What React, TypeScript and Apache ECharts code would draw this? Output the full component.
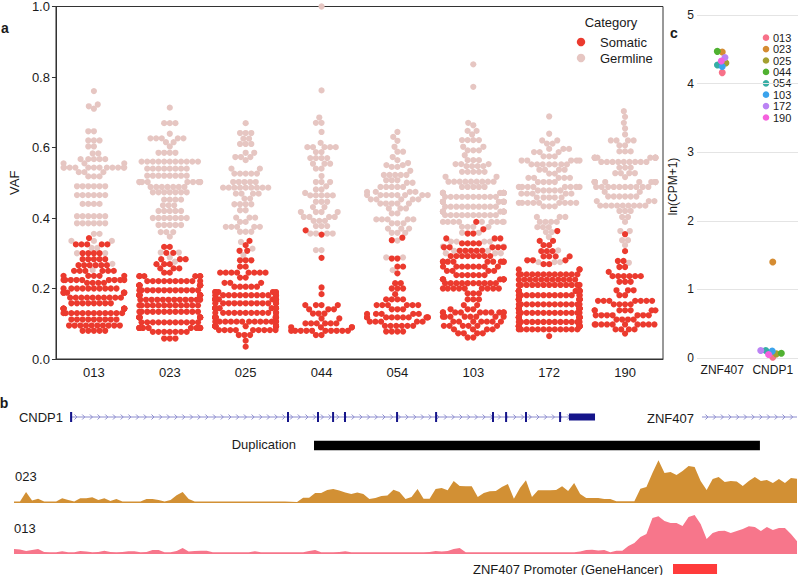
import React, { useEffect, useRef } from 'react';
import * as echarts from 'echarts';

// ---------------- Panel a: VAF per sample ----------------
const samples = ['013', '023', '025', '044', '054', '103', '172', '190'];
const vafTicks = [0, 0.2, 0.4, 0.6, 0.8, 1.0];

const somatic013 = [
  0.343, 0.325, 0.325, 0.325, 0.325, 0.325, 0.300, 0.300, 0.300, 0.300,
  0.283, 0.283, 0.283, 0.283, 0.283, 0.266, 0.266, 0.266, 0.266, 0.266, 0.266,
  0.250, 0.250, 0.250, 0.250, 0.250, 0.250, 0.236, 0.236, 0.236, 0.236, 0.236,
  0.224, 0.224, 0.224, 0.224, 0.224, 0.224, 0.224, 0.224, 0.224, 0.216, 0.216, 0.216, 0.216,
  0.200, 0.200, 0.200, 0.200, 0.200, 0.200, 0.200, 0.200, 0.200, 0.200,
  0.188, 0.188, 0.188, 0.188, 0.188, 0.188,
  0.174, 0.174, 0.174, 0.174, 0.174, 0.174, 0.174, 0.174, 0.174, 0.174,
  0.158, 0.158, 0.158, 0.158, 0.158, 0.158, 0.158, 0.158,
  0.143, 0.143, 0.143, 0.143, 0.143, 0.143, 0.143, 0.143, 0.143,
  0.130, 0.130, 0.130, 0.130, 0.130, 0.130, 0.130, 0.130, 0.130, 0.130, 0.130, 0.130,
  0.112, 0.112, 0.112, 0.112, 0.112, 0.112, 0.112, 0.112, 0.112,
  0.095, 0.095, 0.095, 0.095, 0.095, 0.095, 0.095, 0.095, 0.095, 0.095,
  0.080, 0.080, 0.080, 0.080, 0.080,
];
const germline013 = [
  0.760, 0.722, 0.717, 0.710, 0.646, 0.646, 0.620, 0.620, 0.620, 0.603, 0.603, 0.583, 0.583,
  0.567, 0.567, 0.567, 0.567, 0.567, 0.555, 0.555, 0.555,
  0.543, 0.543, 0.543, 0.543, 0.543, 0.543, 0.543, 0.543, 0.543, 0.543, 0.543, 0.543,
  0.530, 0.530, 0.530, 0.518, 0.518, 0.518, 0.490, 0.490, 0.490, 0.490, 0.490, 0.490,
  0.465, 0.465, 0.465, 0.465, 0.465, 0.465, 0.440, 0.440, 0.440, 0.440,
  0.405, 0.405, 0.405, 0.405, 0.405, 0.405, 0.385, 0.385, 0.385, 0.385, 0.385, 0.385,
  0.355, 0.355, 0.335, 0.335, 0.335, 0.315, 0.315, 0.300, 0.300, 0.270, 0.252,
];
const somatic023 = [
  0.318, 0.318, 0.301, 0.301, 0.283, 0.283, 0.283, 0.269, 0.269, 0.269, 0.257, 0.257, 0.257,
  0.245, 0.245, 0.235, 0.235, 0.235, 0.235, 0.235, 0.235,
  0.221, 0.221, 0.221, 0.221, 0.221, 0.221, 0.221, 0.221, 0.221, 0.221,
  0.209, 0.209, 0.209, 0.209, 0.209, 0.209, 0.209, 0.209, 0.209,
  0.195, 0.195, 0.195, 0.195, 0.195, 0.195, 0.195, 0.195, 0.195, 0.195, 0.195, 0.195,
  0.181, 0.181, 0.181, 0.181, 0.181, 0.181, 0.181, 0.181, 0.181, 0.181,
  0.168, 0.168, 0.168, 0.168, 0.168, 0.168, 0.168, 0.168, 0.168, 0.168, 0.168, 0.168,
  0.152, 0.152, 0.152, 0.152, 0.152, 0.152, 0.152, 0.152, 0.152, 0.152, 0.152, 0.152,
  0.134, 0.134, 0.134, 0.134, 0.134, 0.134, 0.134, 0.134, 0.134, 0.134, 0.134, 0.134,
  0.118, 0.118, 0.118, 0.118, 0.118, 0.118, 0.118, 0.118, 0.118, 0.118, 0.118,
  0.104, 0.104, 0.104, 0.104, 0.104, 0.104, 0.104, 0.104, 0.104, 0.104, 0.104,
  0.088, 0.088, 0.088, 0.088, 0.088, 0.088, 0.088, 0.088, 0.088, 0.088, 0.088, 0.088,
  0.077, 0.077, 0.077, 0.077, 0.077, 0.077, 0.077, 0.058, 0.058, 0.058,
];
const germline023 = [
  0.713, 0.669, 0.669, 0.669, 0.639, 0.626, 0.626, 0.626, 0.626, 0.626, 0.615, 0.615, 0.603,
  0.585, 0.585, 0.585, 0.585,
  0.560, 0.560, 0.560, 0.560, 0.560, 0.560, 0.560, 0.560, 0.560, 0.560, 0.560,
  0.540, 0.540, 0.540, 0.540, 0.540, 0.540, 0.540, 0.540,
  0.520, 0.520, 0.520, 0.520, 0.520, 0.520, 0.520, 0.520,
  0.502, 0.502, 0.502, 0.502, 0.502, 0.502, 0.502, 0.502, 0.502,
  0.488, 0.488, 0.488, 0.488, 0.488, 0.488, 0.488, 0.473, 0.473, 0.473, 0.473, 0.473, 0.473, 0.473,
  0.452, 0.452, 0.452, 0.452, 0.436, 0.436, 0.436, 0.420, 0.420, 0.420, 0.420, 0.420,
  0.400, 0.400, 0.400, 0.400, 0.400, 0.400, 0.400, 0.380, 0.380, 0.380, 0.380, 0.380,
  0.360, 0.360, 0.360, 0.347, 0.302, 0.302, 0.288, 0.276,
];
const somatic025 = [
  0.335, 0.323, 0.307, 0.307, 0.280, 0.280, 0.280, 0.262, 0.262,
  0.245, 0.245, 0.245, 0.245, 0.245, 0.245, 0.245, 0.245, 0.231, 0.231,
  0.216, 0.216, 0.216, 0.205, 0.205, 0.205, 0.205, 0.205, 0.190, 0.190, 0.190, 0.190, 0.190,
  0.181, 0.181, 0.181, 0.181, 0.181, 0.181, 0.181, 0.181, 0.181, 0.181, 0.181, 0.181, 0.181,
  0.169, 0.169, 0.169, 0.169, 0.169, 0.169, 0.169, 0.169, 0.169, 0.169, 0.169, 0.169,
  0.158, 0.158, 0.158, 0.158, 0.158, 0.158, 0.158, 0.158, 0.158, 0.158, 0.158, 0.158, 0.158,
  0.144, 0.144, 0.144, 0.144, 0.144, 0.144, 0.144, 0.144, 0.144, 0.144, 0.144, 0.144,
  0.131, 0.131, 0.131, 0.131, 0.131, 0.131, 0.131, 0.131, 0.131, 0.131, 0.131, 0.131, 0.131,
  0.118, 0.118, 0.118, 0.118, 0.118, 0.118, 0.118, 0.118, 0.118, 0.118, 0.118, 0.118,
  0.106, 0.106, 0.106, 0.106, 0.106, 0.106, 0.106, 0.106, 0.106, 0.106, 0.106, 0.106, 0.106,
  0.093, 0.093, 0.093, 0.093, 0.093, 0.093, 0.093, 0.093, 0.093, 0.093, 0.093, 0.093,
  0.082, 0.082, 0.082, 0.082, 0.082, 0.082, 0.082, 0.082, 0.082,
  0.068, 0.068, 0.068, 0.052, 0.035,
];
const germline025 = [
  0.669, 0.641, 0.641, 0.641, 0.625, 0.625, 0.610, 0.610, 0.610, 0.585, 0.585,
  0.573, 0.573, 0.573, 0.564, 0.540, 0.540, 0.526, 0.526, 0.526, 0.526, 0.526,
  0.502, 0.502, 0.502, 0.502, 0.502, 0.486, 0.486, 0.486, 0.486, 0.486, 0.486, 0.486, 0.486, 0.486,
  0.469, 0.469, 0.469, 0.469, 0.455, 0.455, 0.439, 0.439, 0.439, 0.439, 0.422, 0.422,
  0.401, 0.401, 0.401, 0.389, 0.389, 0.375, 0.375, 0.375, 0.375, 0.375,
  0.361, 0.361, 0.361, 0.332, 0.313, 0.295,
];
const somatic044 = [
  0.365, 0.353, 0.287, 0.203, 0.184, 0.153, 0.153, 0.153, 0.153, 0.141, 0.141, 0.141,
  0.129, 0.129, 0.129, 0.115, 0.115, 0.101, 0.101, 0.101, 0.101, 0.101, 0.101,
  0.090, 0.090, 0.090, 0.090,
  0.080, 0.080, 0.080, 0.080, 0.080, 0.080, 0.080, 0.080, 0.080, 0.080, 0.068, 0.068,
];
const germline044 = [
  1.000, 0.762, 0.685, 0.670, 0.670, 0.644, 0.613, 0.601, 0.601, 0.601, 0.601, 0.601,
  0.587, 0.587, 0.570, 0.570, 0.570, 0.570, 0.554, 0.554, 0.554, 0.540, 0.540, 0.519,
  0.502, 0.502, 0.502, 0.490, 0.481, 0.481, 0.471, 0.464, 0.464, 0.464, 0.464, 0.464,
  0.446, 0.446, 0.446, 0.431, 0.431, 0.417, 0.417, 0.417, 0.417, 0.403, 0.403, 0.403, 0.403,
  0.392, 0.392, 0.392, 0.377, 0.377, 0.377, 0.356, 0.356, 0.356, 0.356, 0.309, 0.309,
];
const somatic054 = [
  0.344, 0.337, 0.285, 0.285, 0.262, 0.262, 0.243, 0.215, 0.215, 0.200, 0.200, 0.200, 0.184,
  0.169, 0.169, 0.169, 0.169, 0.153, 0.153, 0.153, 0.153, 0.153, 0.153, 0.141, 0.141, 0.141,
  0.128, 0.128, 0.128, 0.128, 0.128,
  0.118, 0.118, 0.118, 0.118, 0.118, 0.118, 0.118, 0.118, 0.118, 0.118,
  0.106, 0.106, 0.106, 0.106, 0.106, 0.094, 0.094, 0.094, 0.094, 0.094, 0.094,
  0.078, 0.078, 0.078, 0.078,
];
const germline054 = [
  0.644, 0.630, 0.619, 0.602, 0.588, 0.588, 0.573, 0.564, 0.556, 0.550, 0.550, 0.545, 0.545,
  0.534, 0.522, 0.522, 0.522, 0.522, 0.522, 0.507, 0.507, 0.507, 0.500, 0.500,
  0.488, 0.488, 0.488, 0.488, 0.488, 0.474, 0.474, 0.474, 0.474,
  0.465, 0.465, 0.465, 0.465, 0.465, 0.465, 0.465, 0.465,
  0.453, 0.453, 0.453, 0.453, 0.453, 0.441, 0.441, 0.441, 0.441, 0.441,
  0.427, 0.427, 0.427, 0.413, 0.413, 0.396, 0.396, 0.396, 0.396, 0.396,
  0.385, 0.385, 0.385, 0.370, 0.370, 0.370, 0.358, 0.358, 0.358, 0.336, 0.288, 0.288, 0.252,
];
const somatic103 = [
  0.389, 0.368, 0.356, 0.356, 0.342, 0.342, 0.342, 0.328, 0.328, 0.328, 0.328,
  0.317, 0.317, 0.317, 0.317, 0.317, 0.307, 0.307, 0.307, 0.307, 0.307,
  0.292, 0.292, 0.292, 0.292, 0.292, 0.292, 0.292, 0.292,
  0.276, 0.276, 0.276, 0.276, 0.276, 0.276, 0.276, 0.276, 0.276,
  0.262, 0.262, 0.262, 0.262, 0.262, 0.262, 0.262, 0.262, 0.250, 0.250, 0.250, 0.250,
  0.238, 0.238, 0.238, 0.238, 0.238, 0.238, 0.226, 0.226, 0.226, 0.226, 0.226, 0.226, 0.226,
  0.215, 0.215, 0.215, 0.215, 0.215, 0.215, 0.215, 0.215, 0.215, 0.215,
  0.200, 0.200, 0.200, 0.200, 0.200, 0.200, 0.200, 0.200, 0.200,
  0.186, 0.186, 0.186, 0.169, 0.169, 0.169, 0.153, 0.153, 0.141, 0.141, 0.141,
  0.132, 0.132, 0.132, 0.132, 0.132, 0.132, 0.132, 0.132, 0.132, 0.132,
  0.120, 0.120, 0.120, 0.120, 0.120, 0.120, 0.120, 0.120,
  0.106, 0.106, 0.106, 0.106, 0.106, 0.106, 0.106, 0.094, 0.094, 0.094, 0.094, 0.094, 0.094,
  0.084, 0.084, 0.084, 0.084, 0.073, 0.073, 0.073, 0.073, 0.061, 0.061,
];
const germline103 = [
  0.836, 0.772, 0.670, 0.663, 0.647, 0.647, 0.637, 0.621, 0.621, 0.621, 0.621, 0.602, 0.602,
  0.592, 0.592, 0.592, 0.578, 0.564, 0.564, 0.564, 0.553, 0.553, 0.553, 0.547, 0.547, 0.547, 0.547,
  0.531, 0.531, 0.531, 0.531, 0.531, 0.517, 0.517,
  0.503, 0.503, 0.503, 0.503, 0.503, 0.503, 0.503, 0.503, 0.503, 0.488, 0.488, 0.488, 0.488, 0.488,
  0.471, 0.471, 0.471, 0.471, 0.471, 0.471, 0.471, 0.471, 0.471, 0.471, 0.471,
  0.460, 0.460, 0.460, 0.460, 0.460, 0.460, 0.460, 0.460, 0.460, 0.460,
  0.446, 0.446, 0.446, 0.446, 0.446, 0.446, 0.446, 0.446, 0.446, 0.446, 0.446,
  0.432, 0.432, 0.432, 0.432, 0.432, 0.432, 0.432, 0.432, 0.432, 0.432,
  0.418, 0.418, 0.418, 0.418, 0.418, 0.418, 0.418, 0.418, 0.418, 0.418, 0.418, 0.418,
  0.408, 0.408, 0.408, 0.408, 0.408, 0.408, 0.408, 0.408, 0.408, 0.408,
  0.389, 0.389, 0.389, 0.389, 0.389, 0.389, 0.389, 0.389, 0.389,
  0.375, 0.375, 0.375, 0.375, 0.358, 0.358, 0.333, 0.333, 0.333, 0.333,
  0.319, 0.319, 0.307, 0.307, 0.300, 0.300, 0.300, 0.276,
];
const somatic172 = [
  0.363, 0.335, 0.335, 0.323, 0.323, 0.306, 0.306, 0.306, 0.291, 0.291, 0.291, 0.291,
  0.280, 0.280, 0.280, 0.269, 0.269, 0.254, 0.254, 0.254,
  0.240, 0.240, 0.240, 0.240, 0.240, 0.240, 0.240, 0.240, 0.240, 0.240, 0.240, 0.240,
  0.225, 0.225, 0.225, 0.225, 0.225, 0.225, 0.225, 0.225, 0.225, 0.225, 0.225,
  0.210, 0.210, 0.210, 0.210, 0.210, 0.210, 0.210, 0.210, 0.210, 0.210, 0.210, 0.210, 0.210,
  0.193, 0.193, 0.193, 0.193, 0.193, 0.193, 0.193, 0.193, 0.193, 0.193, 0.193, 0.193,
  0.181, 0.181, 0.181, 0.181, 0.181, 0.181, 0.181, 0.181, 0.181, 0.181, 0.181, 0.181, 0.181,
  0.169, 0.169, 0.169, 0.169, 0.169, 0.169, 0.169, 0.169, 0.169, 0.169, 0.169, 0.169,
  0.155, 0.155, 0.155, 0.155, 0.155, 0.155, 0.155, 0.155, 0.155, 0.155, 0.155, 0.155, 0.155,
  0.143, 0.143, 0.143, 0.143, 0.143, 0.143, 0.143, 0.143, 0.143, 0.143, 0.143, 0.143,
  0.131, 0.131, 0.131, 0.131, 0.131, 0.131, 0.131, 0.131, 0.131, 0.131, 0.131, 0.131, 0.131,
  0.118, 0.118, 0.118, 0.118, 0.118, 0.118, 0.118, 0.118, 0.118, 0.118, 0.118, 0.118,
  0.105, 0.105, 0.105, 0.105, 0.105, 0.105, 0.105, 0.105, 0.105, 0.105, 0.105, 0.105, 0.105,
  0.093, 0.093, 0.093, 0.093, 0.093, 0.093, 0.093, 0.093, 0.093, 0.093, 0.093, 0.093,
  0.084, 0.084, 0.084, 0.084, 0.084, 0.084, 0.084, 0.084, 0.084, 0.084, 0.084, 0.084, 0.065,
];
const germline172 = [
  0.688, 0.639, 0.620, 0.620, 0.611, 0.611, 0.596, 0.596, 0.596, 0.587, 0.587, 0.587,
  0.575, 0.575, 0.575, 0.563, 0.563, 0.563, 0.563, 0.563,
  0.552, 0.552, 0.552, 0.552, 0.552, 0.552, 0.552, 0.537, 0.537, 0.537, 0.537, 0.526, 0.526,
  0.514, 0.514, 0.514, 0.514, 0.514, 0.502, 0.502, 0.502, 0.502,
  0.488, 0.488, 0.488, 0.488, 0.488, 0.488, 0.488, 0.488, 0.478, 0.478, 0.478, 0.478, 0.478,
  0.469, 0.469, 0.469, 0.469, 0.469, 0.458, 0.458, 0.458, 0.458, 0.458,
  0.443, 0.443, 0.443, 0.443, 0.443, 0.443, 0.443, 0.443, 0.443, 0.433, 0.433, 0.433,
  0.403, 0.403, 0.403, 0.389, 0.389, 0.389, 0.389, 0.374, 0.374, 0.374, 0.360, 0.360,
  0.346, 0.308, 0.275, 0.275, 0.275,
];
const somatic190 = [
  0.354, 0.306, 0.278, 0.278, 0.261, 0.261, 0.247, 0.235, 0.235, 0.235, 0.235, 0.235, 0.235,
  0.219, 0.219, 0.219, 0.195, 0.195, 0.195, 0.181, 0.181,
  0.165, 0.165, 0.165, 0.165, 0.165, 0.165, 0.165, 0.155, 0.155, 0.155, 0.155,
  0.138, 0.138, 0.138, 0.138, 0.138, 0.138, 0.138, 0.124, 0.124, 0.124, 0.124, 0.124, 0.124, 0.124,
  0.112, 0.112, 0.112, 0.112,
  0.098, 0.098, 0.098, 0.098, 0.098, 0.098, 0.098, 0.098, 0.098, 0.098,
  0.084, 0.084, 0.084, 0.084, 0.072,
];
const germline190 = [
  0.703, 0.687, 0.670, 0.654, 0.637, 0.620, 0.620, 0.620, 0.620, 0.606, 0.606,
  0.589, 0.589, 0.589, 0.571, 0.571, 0.571, 0.571, 0.571, 0.571, 0.571, 0.571, 0.571,
  0.559, 0.559, 0.559, 0.559, 0.559, 0.559, 0.559, 0.559, 0.559,
  0.543, 0.543, 0.543, 0.527, 0.527, 0.527, 0.527, 0.516,
  0.502, 0.502, 0.502, 0.502, 0.502, 0.502, 0.502, 0.502, 0.502, 0.502, 0.502, 0.502,
  0.488, 0.488, 0.488, 0.488, 0.488, 0.488, 0.488, 0.488, 0.488, 0.488, 0.474, 0.474,
  0.461, 0.461, 0.461, 0.461, 0.461, 0.461, 0.448, 0.448, 0.448,
  0.435, 0.435, 0.435, 0.435, 0.435, 0.435, 0.435, 0.435, 0.435, 0.420, 0.420, 0.420,
  0.403, 0.403, 0.389, 0.363, 0.363, 0.337, 0.337, 0.323, 0.273,
];
const somaticBySample = [somatic013, somatic023, somatic025, somatic044, somatic054, somatic103, somatic172, somatic190];
const germlineBySample = [germline013, germline023, germline025, germline044, germline054, germline103, germline172, germline190];

// ---------------- Panel c: expression ----------------
const exprGenes = ['ZNF407', 'CNDP1'];
const exprSamples = ['013', '023', '025', '044', '054', '103', '172', '190'];
const znf407Expr = [4.16, 4.46, 4.30, 4.47, 4.27, 4.25, 4.38, 4.33];
const cndp1Expr = [0.01, 1.40, 0.06, 0.07, 0.11, 0.10, 0.11, 0.05];
const exprTicks = [0, 1, 2, 3, 4, 5];

// ---------------- Panel b: locus tracks (kb from window start) ----------------
const windowKb = 75.4;
const binKb = 0.58;
const coverage023 = [
  1.5, 1.5, 11, 2.5, 4.3, 1.5, 1.5, 1.5, 4.7, 3,
  1.5, 4.7, 4.7, 5.7, 3, 4.7, 2, 4, 1.5, 1.5,
  1.5, 1.5, 4, 4, 3, 1.5, 3, 7.7, 11, 4,
  1.5, 1.5, 1.5, 1.5, 1.5, 1.5, 1.5, 1.5, 1.5, 1.5,
  1.5, 1.5, 1.5, 1.5, 1.5, 1.5, 1.2, 1.0, 5.3, 5.3,
  10, 10, 13, 14, 12.5, 10.5, 9, 10.5, 9, 4,
  5, 7, 7.5, 13.3, 11, 4, 6, 14, 4.3, 4.3,
  14, 15, 12.7, 22, 17, 16.7, 16.7, 6, 10, 11.7,
  12, 16, 19, 4.3, 15, 22.7, 6, 12.7, 12.7, 12.7,
  13, 16.7, 12, 20, 9, 5, 5, 5, 4, 4,
  1.7, 1.7, 1.7, 1.7, 14.3, 16, 30, 42.7, 30, 31,
  28, 32, 37, 36, 22, 13, 24, 26, 21, 22,
  21.5, 17, 22, 26, 22, 23, 20, 24, 20, 25, 24.3,
];
const coverage013 = [
  5, 4.5, 3, 4, 5, 2, 1.7, 1.7, 2.7, 1.7,
  1.7, 3, 2.5, 1.7, 2, 3.3, 2, 1.7, 2, 2.7,
  2.7, 1.7, 2, 4, 4, 1.7, 1.7, 3, 6, 2.5,
  3, 3.3, 3.3, 1.7, 1.7, 1.7, 1.7, 1.7, 1.7, 1.7,
  2.7, 1.7, 1.7, 1.7, 1.7, 1.7, 1.7, 1.7, 1.7, 3,
  4, 1.7, 1.7, 1.7, 2, 2.7, 1.7, 1.7, 1.7, 1.7,
  1.7, 1.7, 1.7, 1.7, 1.7, 1.7, 1.7, 1.7, 1.7, 2,
  3, 2.5, 3, 5, 6, 1.7, 1.7, 1.7, 1.7, 1.7,
  1.7, 1.7, 1.7, 1.7, 1.7, 1.7, 1.7, 1.7, 1.7, 1.7,
  1.7, 1.7, 1.7, 1.7, 2.5, 4, 4.3, 3.5, 4, 1.7,
  3.3, 3.3, 8, 11, 17, 20, 36, 37.7, 33, 31,
  31, 28, 37, 39, 30, 15, 21, 23, 23.3, 21,
  23, 25, 27.7, 27, 23, 27, 24, 26, 26, 20, 12.7,
];
const geneSpans = [[5.49, 55.95, 0.5], [66.25, 80.0, 0.5]];
const cndp1Exons = [
  [5.40, 5.60, 0.5], [26.29, 26.48, 0.5], [29.18, 29.37, 0.5], [30.63, 30.82, 0.5],
  [31.78, 31.97, 0.5], [36.79, 36.98, 0.5], [40.55, 40.74, 0.5], [46.03, 46.22, 0.5],
  [47.29, 47.48, 0.5], [49.21, 49.40, 0.5], [52.49, 52.68, 0.5],
];
const cndp1LastExon = [[53.44, 55.95, 0.5]];
const duplication = [[28.89, 71.83, 0.5]];
const promoter = [[63.46, 67.70, 0.5]];

const FONT = 'Liberation Sans, Arial, Helvetica, sans-serif';
const SOMATIC = '#eb3a2e';
const GERMLINE = '#e6c6c2';
const HUSL = ['#f77189', '#d58c32', '#a4a031', '#50b131', '#36ada4', '#3ba3ec', '#bb83f4', '#f561dd'];
const TEXT = '#1a1a1a';

function swarmOffsets(vals: number[], pxPerUnit: number, d: number, half: number): number[] {
  const order = vals.map((_, i) => i).sort((a, b) => vals[a] - vals[b] || a - b);
  const placed: number[][] = [];
  const out: number[] = new Array(vals.length).fill(0);
  for (const i of order) {
    const y = vals[i] * pxPerUnit;
    const nb = placed.filter((p) => Math.abs(p[1] - y) < d);
    const cands = [0];
    nb.forEach((p) => {
      const dx = Math.sqrt(d * d - (p[1] - y) * (p[1] - y));
      cands.push(p[0] - dx, p[0] + dx);
    });
    cands.sort((a, b) => Math.abs(a) - Math.abs(b));
    let x = cands[cands.length - 1];
    for (const c of cands) {
      if (nb.every((p) => (p[0] - c) * (p[0] - c) + (p[1] - y) * (p[1] - y) >= d * d - 1e-6)) { x = c; break; }
    }
    placed.push([x, y]);
    out[i] = Math.max(-half, Math.min(half, x));
  }
  return out;
}

const txt = (x: number, y: number, text: string, opts: any = {}) => ({
  type: 'text', x, y, silent: true,
  style: {
    text, fill: TEXT, fontFamily: FONT, fontSize: opts.size || 13,
    align: opts.align || 'left', verticalAlign: 'middle', fontWeight: opts.bold ? 'bold' : 'normal',
  },
});

export default function App() {
  const ref = useRef<HTMLDivElement>(null);
  useEffect(() => {
    if (!ref.current) return;
    const chart = echarts.init(ref.current, undefined, { renderer: 'svg' });

    // Panel a geometry
    const A_LEFT = 39, A_TOP = 5, A_W = 624, A_H = 354;
    const catPx = A_W / samples.length;
    const somData: number[][] = [];
    const germData: number[][] = [];
    samples.forEach((_, k) => {
      const som = somaticBySample[k];
      const all = som.concat(germlineBySample[k]);
      const off = swarmOffsets(all, A_H, 5.8, catPx * 0.4);
      all.forEach((v, j) => {
        const pt = [k + off[j] / catPx, v];
        (j < som.length ? somData : germData).push(pt);
      });
    });

    // Panel c geometry
    const C_LEFT = 697, C_TOP = 15, C_W = 101, C_H = 343;
    const cCat = C_W / exprGenes.length;
    const cPx = C_H / (exprTicks[exprTicks.length - 1] - exprTicks[0]);
    const znfOff = swarmOffsets(znf407Expr, cPx, 5, 20);
    const cnOff = swarmOffsets(cndp1Expr, cPx, 5, 20);

    const B_LEFT = 14, B_W = 783;
    const bGrid = (top: number, height: number) => ({ left: B_LEFT, top, width: B_W, height });
    const bX = (gridIndex: number) => ({ type: 'value', gridIndex, min: 0, max: windowKb, show: false });
    const bY = (gridIndex: number, max: number) => ({ type: 'value', gridIndex, min: 0, max, show: false });

    const rectRender = (color: string, h: number) => (params: any, api: any) => {
      const cs = params.coordSys;
      const a = api.coord([api.value(0), api.value(2)]);
      const b = api.coord([api.value(1), api.value(2)]);
      const x0 = Math.max(a[0], cs.x);
      const x1 = Math.min(b[0], cs.x + cs.width);
      return { type: 'rect', shape: { x: x0, y: a[1] - h / 2, width: Math.max(2, x1 - x0), height: h }, style: { fill: color } };
    };
    const intronRender = (params: any, api: any) => {
      const cs = params.coordSys;
      const a = api.coord([api.value(0), api.value(2)]);
      const b = api.coord([api.value(1), api.value(2)]);
      const x0 = Math.max(a[0], cs.x);
      const x1 = Math.min(b[0], cs.x + cs.width);
      const y = a[1];
      const stroke = '#8d8dcf';
      const children: any[] = [{ type: 'line', shape: { x1: x0, y1: y, x2: x1, y2: y }, style: { stroke, lineWidth: 1 } }];
      for (let x = x0 + 5; x < x1 - 2; x += 7.7) {
        children.push({ type: 'polyline', shape: { points: [[x - 1.5, y - 2.5], [x + 1, y], [x - 1.5, y + 2.5]] }, style: { stroke, lineWidth: 1, fill: 'none' } });
      }
      return { type: 'group', children };
    };

    const option: any = {
      animation: false,
      textStyle: { fontFamily: FONT },
      grid: [
        { left: A_LEFT, top: A_TOP, width: A_W, height: A_H, show: true, borderColor: '#333', borderWidth: 1, backgroundColor: 'transparent' },
        { left: C_LEFT, top: C_TOP, width: C_W, height: C_H },
        bGrid(412, 10),
        bGrid(441, 9),
        bGrid(458, 45),
        bGrid(509, 45),
        bGrid(564, 10),
      ],
      xAxis: [
        {
          type: 'category', gridIndex: 0, data: samples, boundaryGap: true,
          axisLine: { onZero: false, lineStyle: { color: '#333' } },
          axisTick: { alignWithLabel: true, length: 4, lineStyle: { color: '#333' } },
          axisLabel: { color: TEXT, fontSize: 13, margin: 7, fontFamily: FONT, interval: 0 },
        },
        { type: 'value', gridIndex: 0, min: -0.5, max: samples.length - 0.5, show: false },
        {
          type: 'category', gridIndex: 1, data: exprGenes, boundaryGap: true,
          axisLine: { show: false, onZero: false }, axisTick: { show: false },
          axisLabel: { color: TEXT, fontSize: 12, margin: 6, fontFamily: FONT, interval: 0, hideOverlap: false },
        },
        { type: 'value', gridIndex: 1, min: -0.5, max: exprGenes.length - 0.5, show: false },
        bX(2), bX(3), bX(4), bX(5), bX(6),
      ],
      yAxis: [
        {
          type: 'value', gridIndex: 0, min: vafTicks[0], max: vafTicks[vafTicks.length - 1], interval: 0.2,
          name: 'VAF', nameLocation: 'middle', nameGap: 34,
          nameTextStyle: { color: TEXT, fontSize: 13, fontFamily: FONT },
          axisLine: { show: true, onZero: false, lineStyle: { color: '#333' } },
          axisTick: { show: true, length: 4, lineStyle: { color: '#333' } },
          axisLabel: { color: TEXT, fontSize: 13, margin: 6, fontFamily: FONT, formatter: (v: number) => v.toFixed(1) },
          splitLine: { show: false },
        },
        {
          type: 'value', gridIndex: 1, min: exprTicks[0], max: exprTicks[exprTicks.length - 1], interval: 1,
          name: 'ln(CPM+1)', nameLocation: 'middle', nameGap: 18,
          nameTextStyle: { color: TEXT, fontSize: 12, fontFamily: FONT },
          axisLine: { show: false, onZero: false }, axisTick: { show: false },
          axisLabel: { color: TEXT, fontSize: 12, margin: 3, fontFamily: FONT },
          splitLine: { show: true, lineStyle: { color: '#e4e4e4', width: 1 } },
        },
        bY(2, 1), bY(3, 1), bY(4, 45), bY(5, 45), bY(6, 1),
      ],
      series: [
        {
          type: 'scatter', name: 'Germline', xAxisIndex: 1, yAxisIndex: 0, data: germData,
          symbolSize: 6.2, itemStyle: { color: GERMLINE, opacity: 1 }, clip: false, silent: true,
        },
        {
          type: 'scatter', name: 'Somatic', xAxisIndex: 1, yAxisIndex: 0, data: somData,
          symbolSize: 6.2, itemStyle: { color: SOMATIC, opacity: 1 }, clip: false, silent: true,
        },
        ...exprSamples.map((s, i) => ({
          type: 'scatter', name: s, xAxisIndex: 3, yAxisIndex: 1,
          data: [[0 + znfOff[i] / cCat, znf407Expr[i]], [1 + cnOff[i] / cCat, cndp1Expr[i]]],
          symbolSize: 7, itemStyle: { color: HUSL[i], opacity: 1 }, clip: false, silent: true,
        })),
        { type: 'custom', xAxisIndex: 4, yAxisIndex: 2, data: geneSpans, renderItem: intronRender, encode: { x: [0, 1], y: 2 }, silent: true },
        { type: 'custom', xAxisIndex: 4, yAxisIndex: 2, data: cndp1Exons, renderItem: rectRender('#15158a', 10), encode: { x: [0, 1], y: 2 }, silent: true },
        { type: 'custom', xAxisIndex: 4, yAxisIndex: 2, data: cndp1LastExon, renderItem: rectRender('#15158a', 7), encode: { x: [0, 1], y: 2 }, silent: true },
        { type: 'custom', xAxisIndex: 5, yAxisIndex: 3, data: duplication, renderItem: rectRender('#000000', 9.5), encode: { x: [0, 1], y: 2 }, silent: true },
        {
          type: 'line', xAxisIndex: 6, yAxisIndex: 4, data: coverage023.map((v, i) => [i * binKb, v]),
          symbol: 'none', lineStyle: { width: 0 }, areaStyle: { color: '#d29034', opacity: 1 }, silent: true,
        },
        {
          type: 'line', xAxisIndex: 7, yAxisIndex: 5, data: coverage013.map((v, i) => [i * binKb, v]),
          symbol: 'none', lineStyle: { width: 0 }, areaStyle: { color: '#f7768b', opacity: 1 }, silent: true,
        },
        { type: 'custom', xAxisIndex: 8, yAxisIndex: 6, data: promoter, renderItem: rectRender('#ff3b3b', 10), encode: { x: [0, 1], y: 2 }, silent: true },
      ],
      graphic: [
        txt(5, 28, 'a', { bold: true, size: 14, align: 'center' }),
        txt(4, 403, 'b', { bold: true, size: 14, align: 'center' }),
        txt(674, 33, 'c', { bold: true, size: 14, align: 'center' }),
        txt(611, 22, 'Category', { align: 'center' }),
        { type: 'circle', shape: { cx: 581, cy: 42, r: 4.2 }, style: { fill: SOMATIC }, silent: true },
        txt(600, 42, 'Somatic'),
        { type: 'circle', shape: { cx: 581, cy: 58, r: 4.2 }, style: { fill: GERMLINE }, silent: true },
        txt(600, 58, 'Germline'),
        ...exprSamples.map((s, i) => ({ type: 'circle', shape: { cx: 766, cy: 37.7 + i * 11.4, r: 3.3 }, style: { fill: HUSL[i] }, silent: true })),
        ...exprSamples.map((s, i) => txt(773, 37.7 + i * 11.4, s, { size: 11 })),
        txt(63, 417, 'CNDP1', { align: 'right' }),
        txt(694, 418, 'ZNF407', { align: 'right' }),
        txt(296, 444, 'Duplication', { align: 'right' }),
        txt(15, 476, '023'),
        txt(14, 528, '013'),
        txt(663, 569, 'ZNF407 Promoter (GeneHancer)', { align: 'right' }),
      ],
    };
    chart.setOption(option);
    return () => chart.dispose();
  }, []);
  return <div ref={ref} style={{ position: 'fixed', left: 0, top: 0, width: 798, height: 575, background: '#fff' }} />;
}
